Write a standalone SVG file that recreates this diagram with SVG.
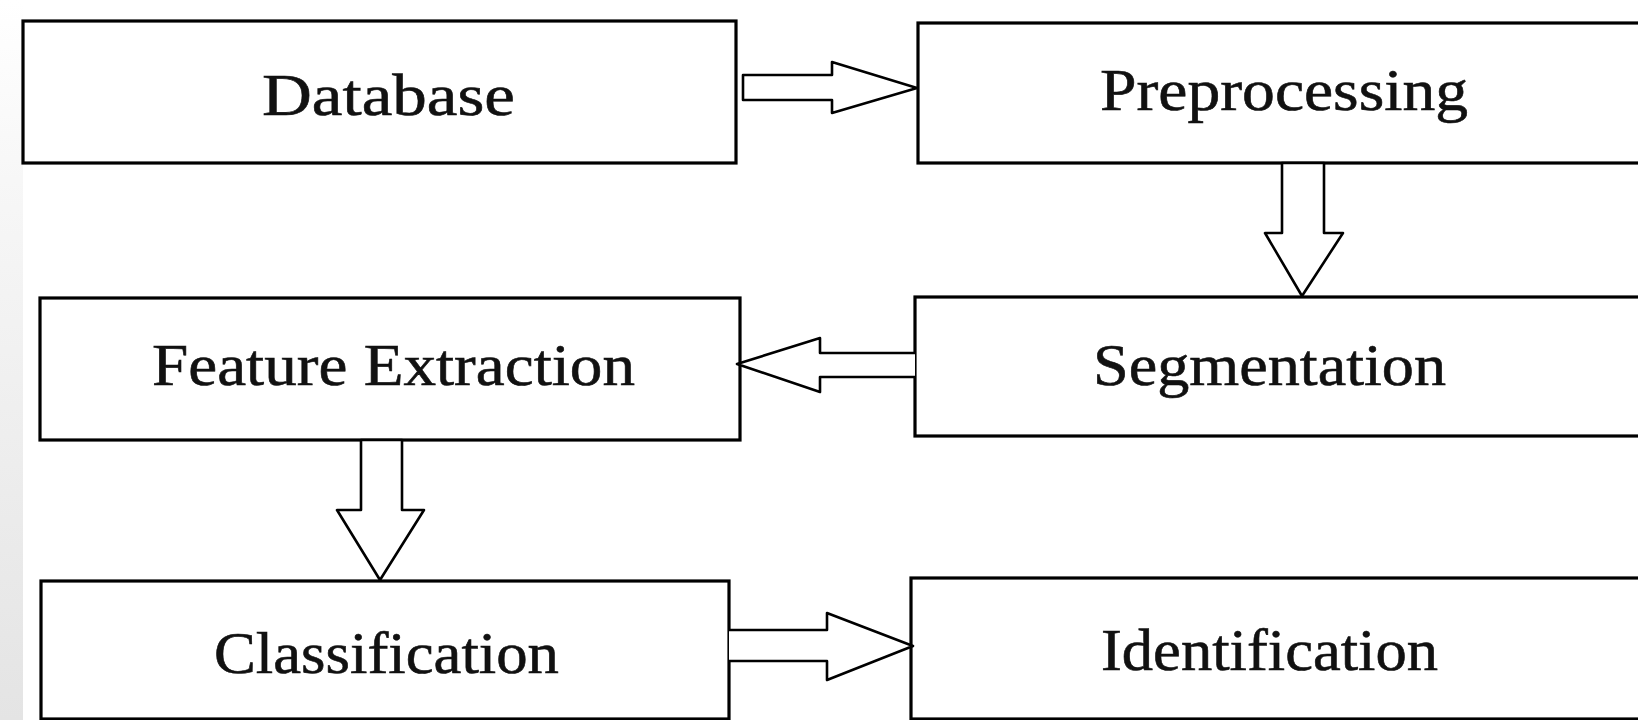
<svg xmlns="http://www.w3.org/2000/svg" width="1638" height="720" viewBox="0 0 1638 720">
<defs>
<linearGradient id="strip" x1="0" y1="0" x2="0" y2="1">
<stop offset="0" stop-color="#ffffff"/>
<stop offset="0.25" stop-color="#f7f7f7"/>
<stop offset="1" stop-color="#e4e4e4"/>
</linearGradient>
<style>
.box{fill:#ffffff;stroke:#000000;stroke-width:3.2}
.lbl{font-family:"Liberation Serif","Times New Roman",serif;font-size:60px;fill:#111111;stroke:#111111;stroke-width:0.6;text-anchor:start}
.arr{fill:#ffffff;stroke:#000000;stroke-width:2.6;stroke-linejoin:round}
</style>
</defs>
<rect x="0" y="0" width="1638" height="720" fill="#ffffff"/>
<rect x="0" y="0" width="23" height="720" fill="url(#strip)"/>

<g id="node-database">
<rect class="box" x="23" y="21" width="713" height="142"/>
<text class="lbl" x="262" y="115" textLength="253" lengthAdjust="spacingAndGlyphs">Database</text>
</g>
<g id="node-preprocessing">
<rect class="box" x="918" y="23" width="740" height="140"/>
<text class="lbl" x="1100" y="110" textLength="368" lengthAdjust="spacingAndGlyphs">Preprocessing</text>
</g>
<g id="node-feature">
<rect class="box" x="40" y="298" width="700" height="142"/>
<text class="lbl" x="152" y="385" textLength="483" lengthAdjust="spacingAndGlyphs">Feature Extraction</text>
</g>
<g id="node-segmentation">
<rect class="box" x="915" y="297" width="740" height="139"/>
<text class="lbl" x="1093" y="385" textLength="353" lengthAdjust="spacingAndGlyphs">Segmentation</text>
</g>
<g id="node-classification">
<rect class="box" x="41" y="581" width="688" height="138"/>
<text class="lbl" x="214" y="673" textLength="345" lengthAdjust="spacingAndGlyphs">Classification</text>
</g>
<g id="node-identification">
<rect class="box" x="911" y="578" width="740" height="141"/>
<text class="lbl" x="1101" y="670" textLength="337" lengthAdjust="spacingAndGlyphs">Identification</text>
</g>

<g id="connectors">
<path class="arr" d="M743,75 L832,75 L832,62 L917,88 L832,113 L832,100 L743,100 Z"/>
<path class="arr" d="M1282,163 L1324,163 L1324,233 L1343,233 L1302,296 L1265,233 L1282,233 Z"/>
<path class="arr" d="M915,353 L820,353 L820,338 L737,364 L820,392 L820,377 L915,377"/>
<path class="arr" d="M361,440 L402,440 L402,510 L424,510 L380,580 L337,510 L361,510 Z"/>
<path class="arr" d="M729,630 L827,630 L827,613 L913,646 L827,680 L827,661 L729,661"/>
</g>
</svg>
